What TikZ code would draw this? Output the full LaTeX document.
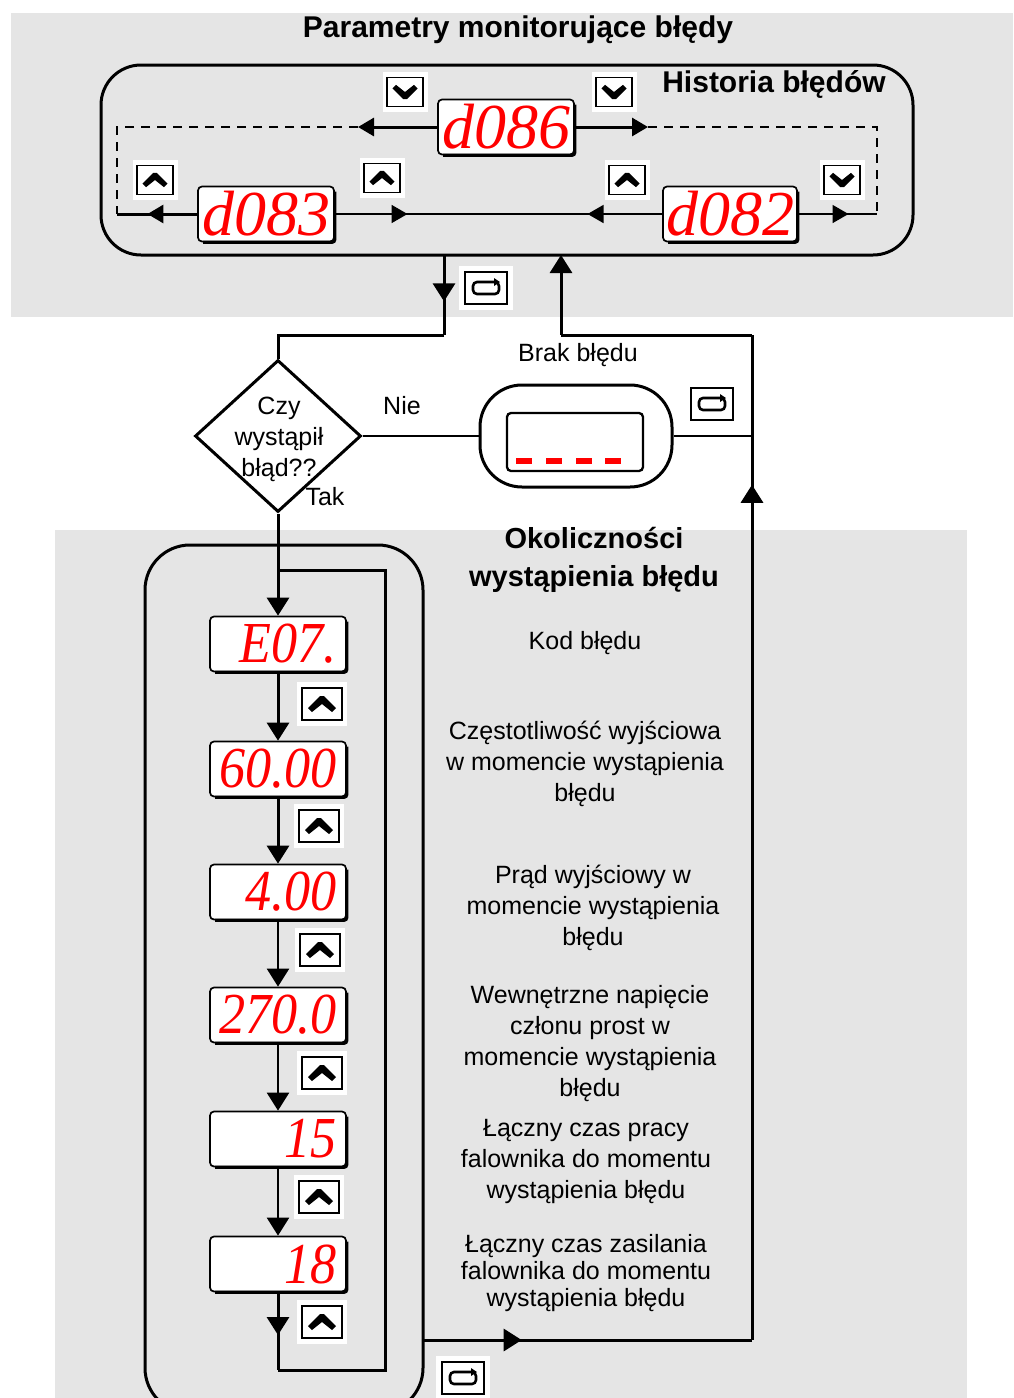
\documentclass[tikz,border=0pt]{standalone}
\usepackage{fontspec}
\usepackage{graphicx}
\setmainfont{Liberation Sans}
\newfontfamily\serifit{Liberation Serif}
\usetikzlibrary{arrows.meta,shapes.geometric,decorations.markings}
\definecolor{bg}{RGB}{229,229,229}
\definecolor{lcdred}{RGB}{255,0,0}
\newcommand{\lcdbig}{\fontsize{64}{64}\selectfont\serifit\itshape}
\newcommand{\lcdsm}{\fontsize{58}{58}\selectfont\serifit\itshape}
\begin{document}
\begin{tikzpicture}[x=1pt,y=-1pt,
  ln/.style={line width=3pt},
  lm/.style={line width=2.3pt},
  thinln/.style={line width=1.7pt},
  tipbig/.style={-{Triangle[length=18pt,width=22pt]}},
  tipsm/.style={-{Triangle[length=16pt,width=18pt]}},
  midbig/.style={postaction={decorate},decoration={markings,mark=at position #1 with {\arrow{Triangle[length=18pt,width=22pt]}}}},
  midsm/.style={postaction={decorate},decoration={markings,mark=at position #1 with {\arrow{Triangle[length=16pt,width=18pt]}}}},
  dispbox/.style={draw, fill=white, line width=1.7pt, rounded corners=4pt, minimum width=136pt, minimum height=55pt, inner sep=0pt, text=lcdred},
  dispsm/.style={dispbox, text width=118pt, align=right, font=\lcdsm},
  dispbig/.style={dispbox, align=center, font=\lcdbig},
  txt/.style={font=\fontsize{25}{31}\selectfont, align=center, inner sep=0pt},
  txtt/.style={font=\fontsize{25}{27}\selectfont, align=center, inner sep=0pt},
  hdr/.style={font=\fontsize{29}{38}\selectfont\bfseries, align=center, inner sep=0pt},
  upbtn/.pic={
    \fill[white] (-25,-22) rectangle (25,22);
    \draw[line width=1.7pt] (-20,-16) rectangle (20,16);
    \fill (-14,4) -- (-2,-8) -- (2,-8) -- (14,4) -- (10,8) -- (0,0) -- (-10,8) -- cycle;
  },
  dnbtn/.pic={
    \fill[white] (-25,-22) rectangle (25,22);
    \draw[line width=1.7pt] (-20,-16) rectangle (20,16);
    \fill (-14,-4) -- (-2,8) -- (2,8) -- (14,-4) -- (10,-8) -- (0,0) -- (-10,-8) -- cycle;
  },
  entbtn/.pic={
    \fill[white] (-27,-22) rectangle (27,22);
    \draw[line width=1.7pt] (-21,-16) rectangle (21,16);
    \draw[line width=2.6pt, rounded corners=4pt] (-13,-6) rectangle (13,6);
    \fill (8,-10) -- (14,-6) -- (8,-2) -- cycle;
  }
]
\useasboundingbox (0,0) rectangle (1013,1398);
\clip (0,0) rectangle (1013,1398);
\fill[white] (0,0) rectangle (1013,1398);
% grey panels
\fill[bg] (11,13) rectangle (1013,317);
\fill[bg] (55,530) rectangle (967,1398);

% headings
\node[font=\fontsize{30}{36}\selectfont\bfseries, inner sep=0pt] (title) at (518,30) {Parametry monitorujące błędy};
\draw[ln, rounded corners=40pt] (101,65) rectangle (913,255);
\node[font=\fontsize{30}{36}\selectfont\bfseries, inner sep=0pt] (hist) at (774,84) {Historia błędów};

% top displays
\node[dispbig] (d086) at (506,127) {d086};
\node[dispbig] (d083) at (266,214) {d083};
\node[dispbig, minimum width=134pt] (d082) at (730,214) {d082};

\coordinate (tl) at (117,127);
\coordinate (tr) at (877,127);
\coordinate (bl) at (117,214);
\coordinate (br) at (877,214);
\coordinate (dl) at (358,127);
\coordinate (dr) at (648,127);
\coordinate (mid) at (500,214);

\draw[ln, tipsm] (d086.west) -- (dl);
\draw[thinln, dash pattern=on 9pt off 7pt] (dl) -- (tl) -- (bl);
\draw[ln, tipsm] (d086.east) -- (dr);
\draw[thinln, dash pattern=on 9pt off 7pt] (dr) -- (tr) -- (br);
\draw[ln, midsm=0.62] (d083.west) -- (bl);
\draw[thinln, midsm=0.44] (d083.east) -- (mid);
\draw[thinln, midsm=0.46] (d082.west) -- (mid);
\draw[thinln, midsm=0.64] (d082.east) -- (br);

\pic[scale=0.9] at (405,92) {dnbtn};
\pic[scale=0.9] at (614,92) {dnbtn};
\pic[scale=0.9] at (842,180) {dnbtn};
\pic[scale=0.9] at (155,180) {upbtn};
\pic[scale=0.9] at (382,178) {upbtn};
\pic[scale=0.9] at (627,180) {upbtn};

% decision
\node[diamond, draw, line width=3pt, minimum width=166pt, minimum height=152pt, inner sep=0pt] (dia) at (278,436) {};
\node[txt] (diatxt) at (279,439) {Czy\\wystąpił\\błąd??};
\node[txt] (tak) at (325,497) {Tak};
\node[txt] (nie) at (402,406) {Nie};

% no-error display
\node[draw, line width=3pt, rounded corners=42pt, minimum width=192pt, minimum height=102pt] (brak) at (576,436) {};
\node[draw, line width=2.3pt, rounded corners=4pt, minimum width=136pt, minimum height=58pt] (brakin) at (575,442) {};
\foreach \x in {524,554,584,613} \fill[lcdred] (\x-8,458) rectangle (\x+8,464);
\node[txt] (braklbl) at (578,355) {Brak błędu};

% flow coordinates
\coordinate (f1) at (444,255);
\coordinate (f2) at (444,335);
\coordinate (f3) at (278,335);
\coordinate (g1) at (561,255);
\coordinate (g2) at (561,335);
\coordinate (g3) at (752,335);
\coordinate (g4) at (752,1340);

\draw[ln, midbig=0.58] (f1) -- (f2);
\draw[ln] (f2) -- (f3) -- (dia.north);
\draw[ln, tipbig] (g2) -- (g1);
\draw[ln] (g3) -- (g2);
\draw[ln, midbig=0.851] (g4) -- (g3);
\draw[thinln] (dia.east) -- (brak.west);
\draw[thinln] (brak.east) -- (brak.east -| g3);

\pic at (486,288) {entbtn};
\pic at (712,404) {entbtn};

% lower frame
\draw[ln, rounded corners=45pt] (145,545) rectangle (423,1413);
\node[hdr] (okol) at (594,560) {Okoliczności\\wystąpienia błędu};

% lower displays
\node[dispsm] (e07) at (278,644) {\scalebox{0.9}[1]{E07.}};
\node[dispsm] (v60) at (278,769) {\scalebox{0.9}[1]{60.00}};
\node[dispsm] (v4) at (278,892) {\scalebox{0.9}[1]{4.00}};
\node[dispsm] (v270) at (278,1015) {\scalebox{0.9}[1]{270.0}};
\node[dispsm] (v15) at (278,1139) {\scalebox{0.9}[1]{15}};
\node[dispsm] (v18) at (278,1264) {\scalebox{0.9}[1]{18}};

\foreach \n in {d086,d083,d082,e07,v60,v4,v270,v15,v18}{
  \draw[line width=3.2pt, rounded corners=3pt] ([xshift=6pt]\n.south west) -- (\n.south east) -- ([yshift=-6pt]\n.north east);
}

\coordinate (L1) at (278,570);
\coordinate (L2) at (385,570);
\coordinate (L3) at (385,1370);
\coordinate (L4) at (278,1370);
\coordinate (o1) at (423,1340);

\draw[ln, tipbig] (dia.south) -- (e07.north);
\draw[ln, tipbig] (e07.south) -- (v60.north);
\draw[ln, tipbig] (v60.south) -- (v4.north);
\draw[lm, tipbig] (v4.south) -- (v270.north);
\draw[lm, tipbig] (v270.south) -- (v15.north);
\draw[lm, tipbig] (v15.south) -- (v18.north);
\draw[ln, midbig=0.55] (v18.south) -- (L4);
\draw[ln] (L4) -- (L3) -- (L2) -- (L1);
\draw[ln, midbig=0.3] (o1) -- (g4);

\pic at (322,704) {upbtn};
\pic at (319,826) {upbtn};
\pic at (320,950) {upbtn};
\pic at (322,1073) {upbtn};
\pic at (319,1197) {upbtn};
\pic at (322,1322) {upbtn};
\pic at (463,1378) {entbtn};

% descriptions
\node[txt] (t1) at (585,643) {Kod błędu};
\node[txt] (t2) at (585,764) {Częstotliwość wyjściowa\\w momencie wystąpienia\\błędu};
\node[txt] (t3) at (593,908) {Prąd wyjściowy w\\momencie wystąpienia\\błędu};
\node[txt] (t4) at (590,1044) {Wewnętrzne napięcie\\członu prost w\\momencie wystąpienia\\błędu};
\node[txt] (t5) at (586,1161) {Łączny czas pracy\\falownika do momentu\\wystąpienia błędu};
\node[txtt] (t6) at (586,1273) {Łączny czas zasilania\\falownika do momentu\\wystąpienia błędu};
\end{tikzpicture}
\end{document}
